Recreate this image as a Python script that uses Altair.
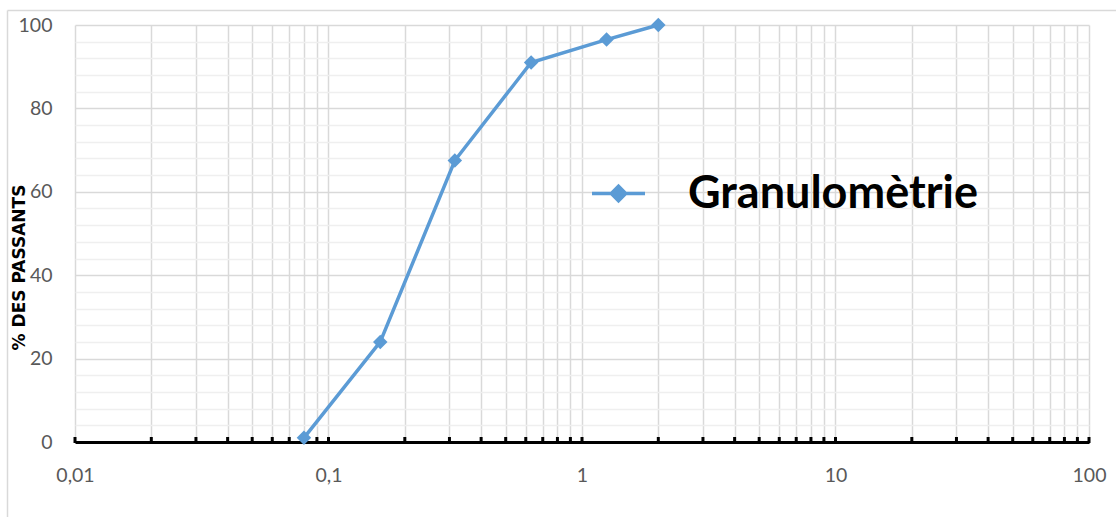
import altair as alt
import pandas as pd

# Sieve openings (mm) and cumulative percentage passing
sieve_mm = [0.08, 0.16, 0.315, 0.63, 1.25, 2]
passing_pct = [1, 24, 67.5, 91, 96.5, 100]
series_name = "Granulomètrie"

decades = [0.01, 0.1, 1, 10, 100]
y_values = list(range(0, 101, 4))

# Log grid positions: 1..9 x 10^k plus the upper bound
log_grid = [round(m * d, 6) for d in decades[:-1] for m in range(1, 10)] + [100]

blue = "#5B9BD5"
font = "Lato"

df = pd.DataFrame({"ouverture": sieve_mm, "passant": passing_pct, "serie": series_name})
grid_df = pd.DataFrame({"ouverture": log_grid, "passant": 0})
one = pd.DataFrame({"k": [0]})

x_scale = alt.Scale(type="log", domain=[0.01, 100], nice=False)
y_scale = alt.Scale(domain=[0, 100], nice=False)

x_axis = alt.Axis(
    values=log_grid,
    labelExpr="indexof([0.01, 0.1, 1, 10, 100], datum.value) >= 0 ? replace(toString(datum.value), '.', ',') : ''",
    title=None,
    grid=True,
    gridColor="#D9D9D9",
    gridWidth=1.5,
    ticks=False,
    domain=True,
    domainColor="#000000",
    domainWidth=3,
    labelFont=font,
    labelFontSize=19.5,
    labelColor="#595959",
    labelPadding=24,
    labelFlush=False,
    labelOverlap=False,
)

y_axis = alt.Axis(
    values=y_values,
    labelExpr="datum.value % 20 === 0 ? datum.label : ''",
    labelOverlap=False,
    title="% DES PASSANTS",
    titleFont="DejaVu Sans",
    titleFontWeight="bold",
    titleFontSize=17,
    titleColor="#000000",
    titleX=-56,
    titleY=242,
    titleAngle=-90,
    titleBaseline="middle",
    titleAlign="center",
    grid=True,
    gridColor={"condition": {"test": "datum.value % 20 === 0", "value": "#D9D9D9"}, "value": "#EFEFEF"},
    gridWidth=1.5,
    ticks=False,
    domain=False,
    labelFont=font,
    labelFontSize=19.5,
    labelColor="#595959",
    labelPadding=23,
)

# Legend symbol: a short line with a diamond in the middle
legend_path = "M-1,0H1M0,-0.27L0.27,0L0,0.27L-0.27,0Z"

color = alt.Color(
    "serie:N",
    scale=alt.Scale(domain=[series_name], range=[blue]),
    legend=alt.Legend(
        title=None,
        orient="none",
        legendX=515,
        legendY=140,
        symbolType=legend_path,
        symbolSize=2809,
        symbolStrokeWidth=3.5,
        symbolStrokeColor=blue,
        symbolFillColor=blue,
        labelFont=font,
        labelFontWeight="bold",
        labelFontSize=45,
        labelColor="#000000",
        labelOffset=41,
        labelLimit=0,
        padding=0,
    ),
)

x_enc = alt.X("ouverture:Q", scale=x_scale, axis=x_axis)
y_enc = alt.Y("passant:Q", scale=y_scale, axis=y_axis)

base = alt.Chart(df).encode(x=x_enc, y=y_enc)

line = base.mark_line(strokeWidth=3.5).encode(color=color)
points = base.mark_point(shape="diamond", filled=True, size=210, opacity=1).encode(color=color)

# Small black tick marks sitting on the x axis line
ticks = alt.Chart(grid_df).mark_tick(color="#000000", size=6, thickness=3, yOffset=-2, opacity=1).encode(
    x=x_enc,
    y=y_enc,
)

# Outer frame (top and left edges)
frame_top = alt.Chart(one).mark_rule(color="#D9D9D9", strokeWidth=1.5).encode(
    x=alt.value(-67.5), x2=alt.value(1041), y=alt.value(-14.5)
)
frame_left = alt.Chart(one).mark_rule(color="#D9D9D9", strokeWidth=1.5).encode(
    x=alt.value(-67.5), y=alt.value(-14.5), y2=alt.value(492)
)

chart = (
    alt.layer(frame_top, frame_left, ticks, line, points)
    .properties(
        width=1014,
        height=417,
        autosize=alt.AutoSizeParams(type="none"),
        padding={"left": 75, "top": 25, "right": 27, "bottom": 75},
        background="#FFFFFF",
    )
    .configure_view(stroke=None)
)

chart.save("out.html", embed_options={"renderer": "svg", "actions": False})
